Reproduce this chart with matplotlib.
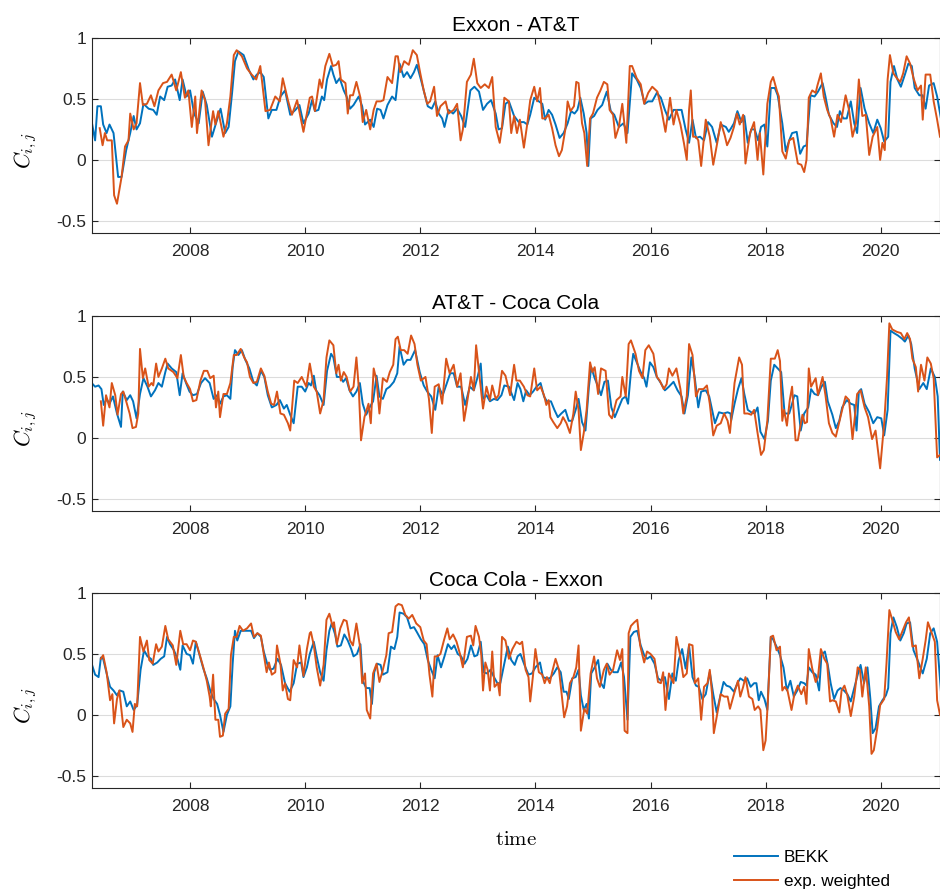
import matplotlib
matplotlib.use("Agg")
import matplotlib.pyplot as plt

# ---- data (time in decimal years) ----

titles = ["Exxon - AT&T", "AT&T - Coca Cola", "Coca Cola - Exxon"]
labels = ["BEKK", "exp. weighted"]

# Exxon - AT&T
xa_bekk_t = [
    2006.30, 2006.35, 2006.39, 2006.45, 2006.49, 2006.55, 2006.60, 2006.67, 2006.75, 2006.81,
    2006.89, 2006.96, 2007.02, 2007.07, 2007.13, 2007.19, 2007.28, 2007.36, 2007.42, 2007.48,
    2007.55, 2007.61, 2007.68, 2007.74, 2007.82, 2007.87, 2007.94, 2008.00, 2008.07, 2008.15,
    2008.22, 2008.29, 2008.38, 2008.45, 2008.53, 2008.61, 2008.67, 2008.73, 2008.78, 2008.84,
    2008.93, 2009.02, 2009.10, 2009.16, 2009.22, 2009.28, 2009.36, 2009.42, 2009.50, 2009.57,
    2009.65, 2009.74, 2009.83, 2009.90, 2009.97, 2010.06,
    2010.12, 2010.17, 2010.23, 2010.29, 2010.33, 2010.38, 2010.45, 2010.49, 2010.54, 2010.60,
    2010.67, 2010.72, 2010.78, 2010.84, 2010.93, 2010.99, 2011.04, 2011.13, 2011.19, 2011.25,
    2011.31, 2011.36, 2011.43, 2011.51, 2011.57, 2011.64, 2011.71, 2011.77, 2011.83, 2011.89,
    2011.94, 2012.01, 2012.07, 2012.13, 2012.20, 2012.26, 2012.32, 2012.38, 2012.42, 2012.49,
    2012.57, 2012.64, 2012.71, 2012.78, 2012.87, 2012.94, 2013.02, 2013.09, 2013.16, 2013.23,
    2013.31, 2013.36, 2013.42, 2013.48, 2013.54, 2013.63, 2013.71,
    2013.74, 2013.80, 2013.86, 2013.91, 2013.98, 2014.06, 2014.12, 2014.17, 2014.23, 2014.29,
    2014.35, 2014.42, 2014.49, 2014.56, 2014.62, 2014.68, 2014.73, 2014.78, 2014.84, 2014.89,
    2014.92, 2014.96, 2015.02, 2015.08, 2015.16, 2015.24, 2015.31, 2015.37, 2015.45, 2015.53,
    2015.60, 2015.68, 2015.76, 2015.83, 2015.90, 2015.96, 2016.03, 2016.11, 2016.18, 2016.25,
    2016.32, 2016.40, 2016.47, 2016.54, 2016.61, 2016.67, 2016.73, 2016.79, 2016.86, 2016.93,
    2017.00, 2017.07, 2017.15, 2017.22, 2017.31, 2017.36,
    2017.40, 2017.45, 2017.51, 2017.58, 2017.63, 2017.69, 2017.75, 2017.81, 2017.87, 2017.92,
    2017.98, 2018.03, 2018.09, 2018.16, 2018.21, 2018.29, 2018.35, 2018.41, 2018.46, 2018.54,
    2018.60, 2018.66, 2018.71, 2018.78, 2018.85, 2018.91, 2018.99, 2019.04, 2019.10, 2019.18,
    2019.24, 2019.29, 2019.35, 2019.41, 2019.48, 2019.54, 2019.59, 2019.65, 2019.72, 2019.80,
    2019.87, 2019.94, 2020.00, 2020.06, 2020.13, 2020.17, 2020.23, 2020.29, 2020.35, 2020.42,
    2020.48, 2020.54, 2020.59, 2020.67, 2020.73, 2020.78, 2020.84, 2020.92, 2020.98, 2021.05,
]
xa_bekk_v = [
    0.29, 0.16, 0.44, 0.44, 0.29, 0.22, 0.29, 0.22, -0.14, -0.14,
    0.08, 0.22, 0.36, 0.25, 0.30, 0.46, 0.42, 0.41, 0.37, 0.52,
    0.49, 0.60, 0.61, 0.66, 0.49, 0.66, 0.52, 0.57, 0.38, 0.30,
    0.56, 0.45, 0.19, 0.30, 0.42, 0.22, 0.27, 0.55, 0.81, 0.89,
    0.86, 0.74, 0.66, 0.70, 0.72, 0.68, 0.34, 0.41, 0.41, 0.52,
    0.57, 0.37, 0.41, 0.45, 0.30, 0.38,
    0.49, 0.40, 0.41, 0.52, 0.49, 0.66, 0.77, 0.70, 0.63, 0.67,
    0.57, 0.52, 0.42, 0.45, 0.52, 0.44, 0.29, 0.33, 0.27, 0.42,
    0.41, 0.34, 0.45, 0.52, 0.49, 0.79, 0.68, 0.72, 0.67, 0.72,
    0.78, 0.66, 0.55, 0.44, 0.42, 0.48, 0.38, 0.34, 0.27, 0.41,
    0.38, 0.42, 0.36, 0.27, 0.57, 0.60, 0.56, 0.41, 0.46, 0.49,
    0.38, 0.25, 0.26, 0.46, 0.48, 0.36, 0.31,
    0.31, 0.31, 0.29, 0.37, 0.51, 0.48, 0.46, 0.33, 0.41, 0.37,
    0.29, 0.18, 0.22, 0.30, 0.40, 0.38, 0.41, 0.51, 0.38, 0.22,
    -0.05, 0.34, 0.36, 0.41, 0.45, 0.56, 0.40, 0.37, 0.27, 0.30,
    0.22, 0.71, 0.66, 0.59, 0.46, 0.48, 0.48, 0.55, 0.51, 0.41,
    0.33, 0.41, 0.41, 0.41, 0.25, 0.14, 0.33, 0.18, 0.19, 0.16,
    0.31, 0.27, 0.14, 0.29, 0.27, 0.23,
    0.26, 0.30, 0.40, 0.31, 0.36, 0.14, 0.25, 0.25, 0.16, 0.27,
    0.29, 0.11, 0.59, 0.59, 0.53, 0.30, 0.07, 0.16, 0.22, 0.23,
    0.05, 0.11, 0.12, 0.53, 0.52, 0.56, 0.63, 0.52, 0.37, 0.30,
    0.27, 0.40, 0.34, 0.34, 0.48, 0.30, 0.22, 0.59, 0.42, 0.30,
    0.22, 0.33, 0.26, 0.15, 0.19, 0.64, 0.77, 0.66, 0.60, 0.70,
    0.79, 0.77, 0.59, 0.53, 0.53, 0.42, 0.61, 0.63, 0.52, 0.33,
]
xa_ew_t = [
    2006.43, 2006.48, 2006.52, 2006.56, 2006.64, 2006.68, 2006.73, 2006.81, 2006.87, 2006.93,
    2006.96, 2007.02, 2007.07, 2007.13, 2007.18, 2007.25, 2007.32, 2007.38, 2007.45, 2007.53,
    2007.60, 2007.68, 2007.76, 2007.84, 2007.91, 2007.97, 2008.03, 2008.09, 2008.12, 2008.20,
    2008.26, 2008.32, 2008.40, 2008.44, 2008.49, 2008.58, 2008.64, 2008.70, 2008.76, 2008.81,
    2008.90, 2008.99, 2009.07, 2009.15, 2009.22, 2009.31, 2009.39, 2009.48, 2009.56, 2009.61,
    2009.70, 2009.77, 2009.86, 2009.97, 2010.08,
    2010.12, 2010.17, 2010.25, 2010.29, 2010.35, 2010.42, 2010.48, 2010.54, 2010.58, 2010.62,
    2010.70, 2010.74, 2010.78, 2010.83, 2010.89, 2010.96, 2011.00, 2011.06, 2011.13, 2011.19,
    2011.24, 2011.31, 2011.36, 2011.43, 2011.51, 2011.57, 2011.61, 2011.65, 2011.72, 2011.80,
    2011.87, 2011.94, 2012.00, 2012.06, 2012.12, 2012.17, 2012.24, 2012.29, 2012.35, 2012.44,
    2012.49, 2012.58, 2012.64, 2012.70, 2012.74, 2012.81, 2012.88, 2012.93, 2012.99, 2013.05,
    2013.12, 2013.19, 2013.25, 2013.31, 2013.38, 2013.42, 2013.46, 2013.54, 2013.58, 2013.63,
    2013.68, 2013.73,
    2013.80, 2013.86, 2013.91, 2013.98, 2014.03, 2014.08, 2014.12, 2014.17, 2014.23, 2014.29,
    2014.35, 2014.41, 2014.46, 2014.52, 2014.56, 2014.61, 2014.67, 2014.71, 2014.75, 2014.81,
    2014.85, 2014.90, 2014.95, 2015.00, 2015.07, 2015.13, 2015.19, 2015.25, 2015.29, 2015.35,
    2015.39, 2015.45, 2015.51, 2015.58, 2015.64, 2015.68, 2015.76, 2015.83, 2015.89, 2015.96,
    2016.03, 2016.12, 2016.19, 2016.26, 2016.34, 2016.40, 2016.45, 2016.52, 2016.58, 2016.63,
    2016.67, 2016.70, 2016.74, 2016.79, 2016.83, 2016.88, 2016.96, 2017.03, 2017.09, 2017.16,
    2017.22, 2017.29, 2017.33, 2017.39,
    2017.45, 2017.50, 2017.55, 2017.61, 2017.65, 2017.73, 2017.80, 2017.86, 2017.90, 2017.96,
    2018.03, 2018.09, 2018.13, 2018.20, 2018.23, 2018.29, 2018.35, 2018.41, 2018.48, 2018.56,
    2018.62, 2018.67, 2018.71, 2018.75, 2018.81, 2018.87, 2018.90, 2018.96, 2019.01, 2019.07,
    2019.13, 2019.19, 2019.25, 2019.31, 2019.39, 2019.45, 2019.51, 2019.57, 2019.62, 2019.68,
    2019.74, 2019.80, 2019.86, 2019.94, 2019.99, 2020.03, 2020.07, 2020.12, 2020.16, 2020.22,
    2020.28, 2020.34, 2020.39, 2020.45, 2020.51, 2020.57, 2020.64, 2020.70, 2020.73, 2020.78,
    2020.86, 2020.92, 2020.98, 2021.03,
]
xa_ew_v = [
    0.26, 0.12, 0.22, 0.16, 0.16, -0.29, -0.36, -0.14, 0.11, 0.16,
    0.38, 0.25, 0.30, 0.63, 0.45, 0.46, 0.53, 0.44, 0.57, 0.63,
    0.64, 0.70, 0.57, 0.72, 0.51, 0.57, 0.27, 0.52, 0.22, 0.57,
    0.49, 0.12, 0.40, 0.29, 0.40, 0.19, 0.30, 0.52, 0.86, 0.90,
    0.85, 0.75, 0.70, 0.66, 0.77, 0.40, 0.41, 0.52, 0.48, 0.67,
    0.49, 0.37, 0.49, 0.23, 0.51,
    0.52, 0.40, 0.66, 0.59, 0.77, 0.87, 0.77, 0.78, 0.81, 0.66,
    0.63, 0.38, 0.53, 0.53, 0.64, 0.51, 0.31, 0.41, 0.25, 0.41,
    0.48, 0.48, 0.49, 0.68, 0.63, 0.85, 0.85, 0.72, 0.81, 0.78,
    0.90, 0.86, 0.71, 0.57, 0.46, 0.48, 0.60, 0.36, 0.44, 0.48,
    0.38, 0.41, 0.46, 0.16, 0.25, 0.64, 0.70, 0.83, 0.63, 0.59,
    0.62, 0.59, 0.68, 0.27, 0.14, 0.27, 0.51, 0.48, 0.22, 0.36,
    0.22, 0.33,
    0.10, 0.30, 0.49, 0.60, 0.48, 0.59, 0.34, 0.34, 0.37, 0.26,
    0.12, 0.03, 0.08, 0.25, 0.48, 0.40, 0.44, 0.64, 0.63, 0.30,
    0.22, -0.05, 0.34, 0.38, 0.51, 0.57, 0.64, 0.62, 0.41, 0.37,
    0.18, 0.27, 0.46, 0.14, 0.77, 0.77, 0.67, 0.62, 0.46, 0.55,
    0.60, 0.56, 0.41, 0.23, 0.51, 0.29, 0.41, 0.29, 0.14, 0.00,
    0.41, 0.57, 0.19, 0.19, 0.16, -0.05, 0.33, 0.19, -0.04, 0.14,
    0.31, 0.20, 0.12, 0.18,
    0.27, 0.38, 0.29, 0.37, -0.03, 0.22, 0.31, 0.00, 0.22, -0.12,
    0.46, 0.64, 0.68, 0.56, 0.52, 0.07, 0.01, 0.16, 0.18, -0.03,
    -0.04, -0.10, 0.00, 0.51, 0.57, 0.55, 0.61, 0.71, 0.52, 0.41,
    0.34, 0.19, 0.37, 0.31, 0.53, 0.41, 0.19, 0.30, 0.66, 0.36,
    0.37, 0.04, 0.19, 0.27, 0.00, 0.14, 0.08, 0.66, 0.86, 0.71,
    0.67, 0.64, 0.71, 0.85, 0.79, 0.67, 0.57, 0.61, 0.33, 0.70,
    0.70, 0.48, 0.33, 0.19,
]

# AT&T - Coca Cola
ak_bekk_t = [
    2006.29, 2006.35, 2006.41, 2006.46, 2006.50, 2006.55, 2006.60, 2006.66, 2006.73, 2006.80,
    2006.83, 2006.90, 2006.96, 2007.01, 2007.07, 2007.13, 2007.19, 2007.26, 2007.32, 2007.39,
    2007.45, 2007.51, 2007.57, 2007.61, 2007.68, 2007.76, 2007.82, 2007.87, 2007.93, 2007.99,
    2008.05, 2008.12, 2008.19, 2008.26, 2008.34, 2008.41, 2008.47, 2008.52, 2008.58, 2008.64,
    2008.70, 2008.74, 2008.78, 2008.84, 2008.90, 2008.96, 2009.03, 2009.10, 2009.16, 2009.23,
    2009.29, 2009.35, 2009.42, 2009.50, 2009.56, 2009.63, 2009.68, 2009.74, 2009.80, 2009.87,
    2009.94, 2010.00, 2010.06,
    2010.10, 2010.15, 2010.19, 2010.25, 2010.32, 2010.38, 2010.45, 2010.49, 2010.55, 2010.61,
    2010.66, 2010.71, 2010.77, 2010.83, 2010.89, 2010.95, 2011.00, 2011.06, 2011.12, 2011.18,
    2011.24, 2011.29, 2011.35, 2011.41, 2011.47, 2011.54, 2011.60, 2011.64, 2011.71, 2011.77,
    2011.83, 2011.91, 2011.99, 2012.06, 2012.12, 2012.19, 2012.26, 2012.32, 2012.39, 2012.47,
    2012.52, 2012.58, 2012.64, 2012.71, 2012.78, 2012.86, 2012.93, 2012.99, 2013.05, 2013.09,
    2013.15, 2013.21, 2013.28, 2013.34, 2013.41, 2013.46, 2013.54, 2013.63, 2013.69,
    2013.74, 2013.79, 2013.84, 2013.90, 2013.96, 2014.02, 2014.09, 2014.15, 2014.20, 2014.27,
    2014.33, 2014.39, 2014.45, 2014.52, 2014.58, 2014.64, 2014.70, 2014.75, 2014.81, 2014.87,
    2014.93, 2014.97, 2015.03, 2015.09, 2015.14, 2015.20, 2015.26, 2015.32, 2015.38, 2015.45,
    2015.51, 2015.57, 2015.61, 2015.66, 2015.70, 2015.76, 2015.83, 2015.89, 2015.93, 2015.99,
    2016.05, 2016.11, 2016.18, 2016.25, 2016.32, 2016.40, 2016.47, 2016.54, 2016.59, 2016.65,
    2016.71, 2016.77, 2016.83, 2016.88, 2016.96, 2017.02, 2017.07, 2017.12, 2017.19, 2017.27,
    2017.34, 2017.39,
    2017.40, 2017.46, 2017.52, 2017.58, 2017.63, 2017.69, 2017.75, 2017.81, 2017.86, 2017.91,
    2017.98, 2018.04, 2018.09, 2018.15, 2018.21, 2018.27, 2018.33, 2018.41, 2018.46, 2018.50,
    2018.55, 2018.61, 2018.67, 2018.74, 2018.79, 2018.85, 2018.91, 2018.97, 2019.03, 2019.08,
    2019.16, 2019.22, 2019.28, 2019.33, 2019.41, 2019.48, 2019.54, 2019.58, 2019.62, 2019.66,
    2019.72, 2019.80, 2019.87, 2019.94, 2020.01, 2020.06, 2020.12, 2020.17, 2020.23, 2020.30,
    2020.38, 2020.42, 2020.48, 2020.53, 2020.59, 2020.67, 2020.74, 2020.80, 2020.87, 2020.94,
    2020.99, 2021.03,
]
ak_bekk_v = [
    0.45, 0.42, 0.43, 0.40, 0.27, 0.32, 0.28, 0.34, 0.20, 0.09,
    0.38, 0.31, 0.35, 0.30, 0.16, 0.36, 0.49, 0.42, 0.34, 0.39,
    0.45, 0.42, 0.54, 0.61, 0.57, 0.54, 0.35, 0.53, 0.45, 0.38,
    0.35, 0.36, 0.45, 0.49, 0.45, 0.32, 0.35, 0.28, 0.34, 0.35,
    0.32, 0.58, 0.72, 0.68, 0.72, 0.64, 0.57, 0.46, 0.43, 0.55,
    0.50, 0.35, 0.25, 0.27, 0.31, 0.24, 0.27, 0.19, 0.12, 0.42,
    0.42, 0.38, 0.45,
    0.43, 0.51, 0.39, 0.35, 0.27, 0.55, 0.69, 0.66, 0.50, 0.50,
    0.46, 0.49, 0.39, 0.34, 0.38, 0.45, 0.28, 0.19, 0.25, 0.30,
    0.51, 0.34, 0.32, 0.40, 0.42, 0.46, 0.53, 0.75, 0.60, 0.64,
    0.64, 0.72, 0.54, 0.43, 0.38, 0.34, 0.23, 0.42, 0.35, 0.46,
    0.53, 0.53, 0.42, 0.42, 0.27, 0.42, 0.39, 0.49, 0.61, 0.32,
    0.35, 0.30, 0.32, 0.31, 0.35, 0.43, 0.42, 0.31, 0.45,
    0.40, 0.30, 0.39, 0.35, 0.38, 0.42, 0.45, 0.34, 0.30, 0.30,
    0.23, 0.17, 0.20, 0.23, 0.14, 0.14, 0.23, 0.32, 0.13, 0.06,
    0.42, 0.58, 0.49, 0.42, 0.35, 0.46, 0.47, 0.25, 0.17, 0.25,
    0.32, 0.34, 0.28, 0.54, 0.69, 0.62, 0.54, 0.49, 0.42, 0.62,
    0.58, 0.50, 0.45, 0.39, 0.42, 0.46, 0.39, 0.34, 0.20, 0.35,
    0.66, 0.49, 0.25, 0.38, 0.39, 0.34, 0.23, 0.12, 0.21, 0.20,
    0.21, 0.20,
    0.14, 0.28, 0.40, 0.49, 0.36, 0.23, 0.21, 0.20, 0.25, 0.05,
    -0.01, 0.14, 0.47, 0.60, 0.57, 0.54, 0.20, 0.20, 0.28, 0.35,
    0.34, 0.06, 0.20, 0.25, 0.40, 0.36, 0.35, 0.42, 0.46, 0.30,
    0.19, 0.08, 0.14, 0.25, 0.31, 0.28, 0.27, 0.06, 0.38, 0.40,
    0.28, 0.21, 0.12, 0.17, 0.16, 0.02, 0.23, 0.88, 0.86, 0.84,
    0.81, 0.79, 0.84, 0.77, 0.57, 0.40, 0.45, 0.40, 0.57, 0.50,
    0.34, -0.18,
]
ak_ew_t = [
    2006.45, 2006.49, 2006.54, 2006.60, 2006.64, 2006.70, 2006.74, 2006.80, 2006.84, 2006.89,
    2006.95, 2007.00, 2007.06, 2007.10, 2007.13, 2007.18, 2007.22, 2007.28, 2007.33, 2007.36,
    2007.41, 2007.45, 2007.51, 2007.57, 2007.62, 2007.71, 2007.78, 2007.84, 2007.89, 2007.94,
    2008.00, 2008.05, 2008.11, 2008.18, 2008.24, 2008.30, 2008.35, 2008.41, 2008.45, 2008.49,
    2008.52, 2008.58, 2008.64, 2008.70, 2008.76, 2008.81, 2008.88, 2008.94, 2008.99, 2009.04,
    2009.10, 2009.16, 2009.23, 2009.29, 2009.35, 2009.41, 2009.46, 2009.51, 2009.57, 2009.63,
    2009.70, 2009.74, 2009.81, 2009.87, 2009.94, 2010.02, 2010.08,
    2010.15, 2010.20, 2010.26, 2010.32, 2010.37, 2010.42, 2010.49, 2010.54, 2010.58, 2010.62,
    2010.67, 2010.72, 2010.78, 2010.84, 2010.89, 2010.93, 2010.97, 2011.03, 2011.10, 2011.14,
    2011.19, 2011.24, 2011.29, 2011.35, 2011.42, 2011.47, 2011.53, 2011.57, 2011.61, 2011.66,
    2011.72, 2011.78, 2011.84, 2011.90, 2011.95, 2012.01, 2012.09, 2012.15, 2012.20, 2012.25,
    2012.32, 2012.38, 2012.45, 2012.51, 2012.58, 2012.64, 2012.70, 2012.76, 2012.81, 2012.88,
    2012.93, 2012.97, 2013.03, 2013.09, 2013.15, 2013.21, 2013.25, 2013.31, 2013.36, 2013.42,
    2013.48, 2013.56, 2013.63, 2013.67, 2013.73,
    2013.80, 2013.86, 2013.91, 2013.98, 2014.03, 2014.09, 2014.15, 2014.19, 2014.23, 2014.26,
    2014.31, 2014.38, 2014.44, 2014.48, 2014.54, 2014.60, 2014.66, 2014.70, 2014.75, 2014.79,
    2014.84, 2014.89, 2014.95, 2014.99, 2015.03, 2015.09, 2015.14, 2015.22, 2015.28, 2015.33,
    2015.41, 2015.48, 2015.51, 2015.57, 2015.62, 2015.66, 2015.74, 2015.80, 2015.86, 2015.91,
    2015.97, 2016.05, 2016.11, 2016.16, 2016.23, 2016.28, 2016.32, 2016.38, 2016.45, 2016.52,
    2016.57, 2016.63, 2016.67, 2016.73, 2016.79, 2016.84, 2016.92, 2016.98, 2017.03, 2017.09,
    2017.15, 2017.22, 2017.28, 2017.34, 2017.38,
    2017.42, 2017.46, 2017.54, 2017.59, 2017.63, 2017.69, 2017.75, 2017.80, 2017.86, 2017.92,
    2017.97, 2018.03, 2018.09, 2018.16, 2018.21, 2018.25, 2018.29, 2018.32, 2018.37, 2018.42,
    2018.46, 2018.52, 2018.56, 2018.64, 2018.68, 2018.72, 2018.75, 2018.79, 2018.87, 2018.91,
    2018.99, 2019.04, 2019.10, 2019.16, 2019.22, 2019.28, 2019.33, 2019.39, 2019.45, 2019.51,
    2019.55, 2019.59, 2019.65, 2019.72, 2019.78, 2019.85, 2019.91, 2019.99, 2020.06, 2020.11,
    2020.15, 2020.20, 2020.28, 2020.35, 2020.41, 2020.46, 2020.51, 2020.55, 2020.61, 2020.65,
    2020.70, 2020.76, 2020.81, 2020.87, 2020.92, 2020.98, 2021.03,
]
ak_ew_v = [
    0.30, 0.10, 0.35, 0.25, 0.45, 0.35, 0.19, 0.36, 0.38, 0.30,
    0.20, 0.08, 0.09, 0.20, 0.73, 0.49, 0.57, 0.42, 0.45, 0.43,
    0.61, 0.50, 0.57, 0.65, 0.57, 0.54, 0.49, 0.68, 0.50, 0.45,
    0.40, 0.30, 0.31, 0.47, 0.55, 0.55, 0.49, 0.51, 0.25, 0.38,
    0.17, 0.36, 0.36, 0.45, 0.68, 0.68, 0.73, 0.66, 0.62, 0.50,
    0.45, 0.46, 0.57, 0.51, 0.38, 0.28, 0.27, 0.38, 0.20, 0.19,
    0.12, 0.06, 0.47, 0.45, 0.50, 0.42, 0.61,
    0.42, 0.38, 0.20, 0.31, 0.66, 0.80, 0.76, 0.53, 0.60, 0.47,
    0.54, 0.50, 0.38, 0.42, 0.66, 0.42, -0.02, 0.17, 0.28, 0.12,
    0.57, 0.47, 0.20, 0.49, 0.46, 0.54, 0.60, 0.81, 0.83, 0.72,
    0.72, 0.69, 0.84, 0.77, 0.60, 0.47, 0.50, 0.32, 0.04, 0.42,
    0.44, 0.28, 0.65, 0.53, 0.60, 0.42, 0.53, 0.14, 0.28, 0.50,
    0.39, 0.76, 0.50, 0.24, 0.42, 0.31, 0.43, 0.32, 0.35, 0.55,
    0.51, 0.35, 0.60, 0.47, 0.47,
    0.42, 0.35, 0.34, 0.57, 0.39, 0.42, 0.35, 0.27, 0.31, 0.17,
    0.13, 0.08, 0.12, 0.17, 0.12, 0.04, 0.20, 0.38, 0.23, -0.10,
    0.04, 0.23, 0.62, 0.54, 0.58, 0.36, 0.57, 0.55, 0.19, 0.16,
    0.31, 0.34, 0.50, 0.34, 0.77, 0.80, 0.69, 0.55, 0.49, 0.72,
    0.76, 0.69, 0.50, 0.47, 0.40, 0.44, 0.57, 0.51, 0.57, 0.40,
    0.20, 0.34, 0.77, 0.68, 0.34, 0.40, 0.40, 0.43, 0.28, 0.02,
    0.10, 0.12, 0.20, 0.14, 0.04,
    0.25, 0.45, 0.66, 0.60, 0.20, 0.20, 0.19, 0.23, 0.04, -0.14,
    -0.10, 0.14, 0.65, 0.65, 0.72, 0.63, 0.14, 0.23, 0.10, 0.31,
    0.42, -0.02, -0.02, 0.19, 0.12, 0.13, 0.57, 0.42, 0.49, 0.35,
    0.50, 0.35, 0.12, 0.04, 0.01, 0.13, 0.23, 0.34, 0.31, -0.01,
    0.17, 0.36, 0.39, 0.25, 0.17, -0.01, 0.06, -0.25, 0.12, 0.50,
    0.94, 0.89, 0.87, 0.86, 0.81, 0.86, 0.81, 0.65, 0.58, 0.38,
    0.60, 0.47, 0.66, 0.61, 0.49, -0.16, -0.14,
]

# Coca Cola - Exxon
kx_bekk_t = [
    2006.29, 2006.35, 2006.41, 2006.45, 2006.49, 2006.55, 2006.61, 2006.67, 2006.73, 2006.78,
    2006.84, 2006.90, 2006.96, 2007.02, 2007.08, 2007.14, 2007.20, 2007.26, 2007.32, 2007.36,
    2007.43, 2007.49, 2007.55, 2007.60, 2007.65, 2007.72, 2007.78, 2007.83, 2007.87, 2007.94,
    2008.00, 2008.05, 2008.10, 2008.16, 2008.23, 2008.29, 2008.35, 2008.41, 2008.47, 2008.52,
    2008.58, 2008.64, 2008.70, 2008.74, 2008.78, 2008.82, 2008.88, 2008.94, 2009.00, 2009.06,
    2009.11, 2009.17, 2009.23, 2009.28, 2009.34, 2009.39, 2009.45, 2009.52, 2009.58, 2009.65,
    2009.73, 2009.80, 2009.86, 2009.93, 2009.97, 2010.03, 2010.08,
    2010.15, 2010.20, 2010.26, 2010.32, 2010.37, 2010.42, 2010.46, 2010.52, 2010.56, 2010.62,
    2010.68, 2010.74, 2010.80, 2010.84, 2010.90, 2010.96, 2011.00, 2011.06, 2011.12, 2011.16,
    2011.20, 2011.25, 2011.31, 2011.35, 2011.43, 2011.49, 2011.55, 2011.60, 2011.64, 2011.71,
    2011.77, 2011.83, 2011.89, 2011.94, 2012.01, 2012.07, 2012.13, 2012.19, 2012.25, 2012.30,
    2012.36, 2012.42, 2012.48, 2012.54, 2012.59, 2012.65, 2012.71, 2012.77, 2012.82, 2012.88,
    2012.94, 2012.99, 2013.05, 2013.10, 2013.16, 2013.22, 2013.28, 2013.34, 2013.39, 2013.46,
    2013.52, 2013.58, 2013.64, 2013.69, 2013.74,
    2013.81, 2013.88, 2013.94, 2014.00, 2014.08, 2014.13, 2014.19, 2014.25, 2014.32, 2014.38,
    2014.44, 2014.49, 2014.54, 2014.58, 2014.64, 2014.70, 2014.75, 2014.79, 2014.84, 2014.89,
    2014.93, 2014.97, 2015.03, 2015.09, 2015.14, 2015.19, 2015.25, 2015.31, 2015.36, 2015.43,
    2015.49, 2015.54, 2015.60, 2015.65, 2015.71, 2015.77, 2015.83, 2015.89, 2015.94, 2016.00,
    2016.07, 2016.13, 2016.19, 2016.25, 2016.32, 2016.38, 2016.44, 2016.49, 2016.55, 2016.61,
    2016.67, 2016.73, 2016.79, 2016.84, 2016.90, 2016.96, 2017.03, 2017.09, 2017.15, 2017.21,
    2017.27, 2017.32, 2017.38,
    2017.45, 2017.51, 2017.56, 2017.62, 2017.68, 2017.74, 2017.80, 2017.84, 2017.88, 2017.92,
    2017.98, 2018.03, 2018.09, 2018.13, 2018.19, 2018.25, 2018.31, 2018.37, 2018.43, 2018.49,
    2018.55, 2018.61, 2018.67, 2018.71, 2018.75, 2018.81, 2018.87, 2018.93, 2018.97, 2019.03,
    2019.08, 2019.13, 2019.19, 2019.25, 2019.30, 2019.36, 2019.42, 2019.48, 2019.54, 2019.60,
    2019.65, 2019.71, 2019.77, 2019.82, 2019.86, 2019.91, 2019.97, 2020.03, 2020.09, 2020.13,
    2020.17, 2020.22, 2020.28, 2020.34, 2020.40, 2020.45, 2020.51, 2020.57, 2020.64, 2020.73,
    2020.80, 2020.86, 2020.92, 2020.98, 2021.05,
]
kx_bekk_v = [
    0.42, 0.33, 0.31, 0.47, 0.46, 0.34, 0.23, 0.20, 0.16, 0.20,
    0.19, 0.07, 0.11, 0.04, 0.08, 0.37, 0.53, 0.48, 0.46, 0.41,
    0.43, 0.46, 0.48, 0.64, 0.58, 0.53, 0.46, 0.37, 0.57, 0.50,
    0.49, 0.42, 0.60, 0.50, 0.38, 0.30, 0.20, 0.13, 0.09, 0.00,
    -0.14, 0.00, 0.07, 0.42, 0.69, 0.61, 0.69, 0.69, 0.69, 0.69,
    0.63, 0.67, 0.64, 0.52, 0.42, 0.37, 0.38, 0.46, 0.41, 0.26,
    0.19, 0.26, 0.42, 0.43, 0.31, 0.39, 0.50,
    0.60, 0.48, 0.35, 0.28, 0.53, 0.69, 0.75, 0.66, 0.56, 0.57,
    0.66, 0.61, 0.54, 0.48, 0.50, 0.58, 0.28, 0.22, 0.22, 0.09,
    0.35, 0.42, 0.41, 0.33, 0.35, 0.56, 0.54, 0.64, 0.84, 0.83,
    0.80, 0.71, 0.72, 0.68, 0.62, 0.58, 0.45, 0.37, 0.30, 0.49,
    0.39, 0.48, 0.58, 0.54, 0.57, 0.50, 0.48, 0.42, 0.46, 0.57,
    0.48, 0.49, 0.60, 0.35, 0.34, 0.37, 0.31, 0.26, 0.26, 0.42,
    0.56, 0.45, 0.41, 0.48, 0.50,
    0.41, 0.33, 0.34, 0.39, 0.43, 0.31, 0.30, 0.30, 0.34, 0.39,
    0.35, 0.19, 0.19, 0.13, 0.30, 0.31, 0.37, 0.16, 0.04, 0.09,
    -0.03, 0.34, 0.39, 0.45, 0.26, 0.22, 0.42, 0.37, 0.35, 0.35,
    0.43, 0.31, -0.04, 0.64, 0.68, 0.69, 0.57, 0.49, 0.46, 0.48,
    0.42, 0.30, 0.28, 0.31, 0.13, 0.34, 0.28, 0.45, 0.54, 0.38,
    0.57, 0.31, 0.24, 0.23, 0.13, 0.17, 0.35, 0.17, 0.02, 0.15,
    0.27, 0.24, 0.23,
    0.19, 0.26, 0.30, 0.28, 0.30, 0.23, 0.26, 0.26, 0.12, 0.19,
    0.13, 0.04, 0.64, 0.62, 0.56, 0.49, 0.39, 0.20, 0.28, 0.15,
    0.20, 0.27, 0.26, 0.24, 0.39, 0.35, 0.33, 0.20, 0.49, 0.52,
    0.41, 0.26, 0.13, 0.20, 0.22, 0.20, 0.17, 0.11, 0.22, 0.33,
    0.41, 0.26, 0.39, 0.13, -0.15, -0.11, 0.07, 0.12, 0.16, 0.22,
    0.67, 0.80, 0.72, 0.61, 0.67, 0.75, 0.76, 0.53, 0.45, 0.34,
    0.46, 0.67, 0.71, 0.60, 0.17,
]
kx_ew_t = [
    2006.45, 2006.49, 2006.55, 2006.61, 2006.65, 2006.68, 2006.73, 2006.77, 2006.84, 2006.90,
    2006.96, 2007.00, 2007.04, 2007.08, 2007.13, 2007.19, 2007.25, 2007.29, 2007.35, 2007.41,
    2007.45, 2007.51, 2007.57, 2007.62, 2007.70, 2007.76, 2007.83, 2007.88, 2007.94, 2008.00,
    2008.05, 2008.10, 2008.17, 2008.23, 2008.29, 2008.34, 2008.36, 2008.40, 2008.44, 2008.49,
    2008.52, 2008.57, 2008.61, 2008.67, 2008.71, 2008.76, 2008.81, 2008.86, 2008.92, 2008.99,
    2009.06, 2009.11, 2009.17, 2009.23, 2009.28, 2009.33, 2009.37, 2009.42, 2009.48, 2009.51,
    2009.57, 2009.61, 2009.65, 2009.70, 2009.74, 2009.80, 2009.86, 2009.90, 2009.97, 2010.03,
    2010.08,
    2010.10, 2010.15, 2010.20, 2010.26, 2010.32, 2010.37, 2010.42, 2010.48, 2010.50, 2010.55,
    2010.61, 2010.67, 2010.72, 2010.78, 2010.83, 2010.89, 2010.95, 2010.99, 2011.04, 2011.07,
    2011.13, 2011.18, 2011.24, 2011.29, 2011.35, 2011.41, 2011.45, 2011.51, 2011.57, 2011.62,
    2011.68, 2011.74, 2011.80, 2011.86, 2011.93, 2012.00, 2012.06, 2012.11, 2012.16, 2012.21,
    2012.25, 2012.30, 2012.35, 2012.41, 2012.47, 2012.51, 2012.57, 2012.63, 2012.69, 2012.74,
    2012.81, 2012.88, 2012.92, 2012.96, 2013.02, 2013.06, 2013.09, 2013.13, 2013.17, 2013.21,
    2013.25, 2013.29, 2013.35, 2013.38, 2013.42, 2013.48, 2013.54, 2013.60, 2013.67, 2013.73,
    2013.77, 2013.83, 2013.88, 2013.91, 2013.96, 2014.00, 2014.06, 2014.12, 2014.16, 2014.20,
    2014.25, 2014.29, 2014.35, 2014.41, 2014.46, 2014.50, 2014.55, 2014.60, 2014.66, 2014.71,
    2014.75, 2014.79, 2014.85, 2014.90, 2014.96, 2015.02, 2015.07, 2015.12, 2015.19, 2015.24,
    2015.29, 2015.35, 2015.42, 2015.47, 2015.51, 2015.55, 2015.60, 2015.62, 2015.66, 2015.72,
    2015.77, 2015.82, 2015.89, 2015.94, 2016.00, 2016.07, 2016.13, 2016.18, 2016.22, 2016.26,
    2016.32, 2016.40, 2016.45, 2016.51, 2016.57, 2016.63, 2016.67, 2016.73, 2016.77, 2016.83,
    2016.88, 2016.93, 2016.99, 2017.03, 2017.07, 2017.10, 2017.16, 2017.22, 2017.28, 2017.34,
    2017.38,
    2017.45, 2017.52, 2017.56, 2017.61, 2017.65, 2017.71, 2017.77, 2017.81, 2017.87, 2017.91,
    2017.96, 2018.00, 2018.04, 2018.09, 2018.13, 2018.19, 2018.25, 2018.29, 2018.33, 2018.38,
    2018.45, 2018.50, 2018.56, 2018.62, 2018.67, 2018.71, 2018.75, 2018.81, 2018.87, 2018.91,
    2018.96, 2019.02, 2019.07, 2019.12, 2019.16, 2019.22, 2019.28, 2019.32, 2019.37, 2019.42,
    2019.48, 2019.54, 2019.60, 2019.64, 2019.68, 2019.74, 2019.80, 2019.84, 2019.88, 2019.94,
    2019.99, 2020.06, 2020.10, 2020.15, 2020.20, 2020.26, 2020.32, 2020.38, 2020.44, 2020.49,
    2020.55, 2020.61, 2020.67, 2020.73, 2020.78, 2020.82, 2020.88, 2020.94, 2020.98, 2021.03,
]
kx_ew_v = [
    0.46, 0.49, 0.35, 0.12, 0.17, -0.07, 0.13, 0.20, -0.10, -0.04,
    -0.07, -0.14, 0.09, 0.07, 0.64, 0.52, 0.61, 0.45, 0.42, 0.58,
    0.52, 0.56, 0.73, 0.62, 0.57, 0.41, 0.69, 0.58, 0.58, 0.53,
    0.61, 0.60, 0.49, 0.39, 0.28, 0.15, 0.07, 0.33, -0.04, -0.04,
    -0.18, -0.17, 0.01, 0.05, 0.49, 0.64, 0.64, 0.73, 0.69, 0.71,
    0.75, 0.64, 0.67, 0.65, 0.50, 0.35, 0.43, 0.33, 0.35, 0.57,
    0.42, 0.20, 0.26, 0.13, 0.12, 0.45, 0.39, 0.57, 0.32, 0.54,
    0.67,
    0.68, 0.57, 0.39, 0.24, 0.41, 0.78, 0.83, 0.72, 0.76, 0.58,
    0.71, 0.78, 0.77, 0.61, 0.57, 0.75, 0.57, 0.26, 0.34, 0.04,
    -0.03, 0.34, 0.42, 0.27, 0.37, 0.49, 0.67, 0.68, 0.89, 0.91,
    0.90, 0.82, 0.79, 0.82, 0.75, 0.72, 0.61, 0.58, 0.33, 0.15,
    0.48, 0.48, 0.50, 0.61, 0.71, 0.62, 0.66, 0.60, 0.50, 0.39,
    0.64, 0.65, 0.57, 0.73, 0.64, 0.49, 0.20, 0.43, 0.37, 0.20,
    0.52, 0.23, 0.26, 0.16, 0.64, 0.61, 0.46, 0.54, 0.60, 0.58,
    0.60, 0.37, 0.31, 0.11, 0.33, 0.54, 0.35, 0.33, 0.26, 0.31,
    0.26, 0.35, 0.46, 0.37, 0.15, -0.02, 0.07, 0.26, 0.31, 0.39,
    0.57, -0.13, 0.05, 0.01, 0.34, 0.48, 0.30, 0.23, 0.37, 0.42,
    0.33, 0.37, 0.53, 0.45, 0.54, -0.13, -0.15, 0.67, 0.73, 0.76,
    0.78, 0.57, 0.43, 0.52, 0.50, 0.46, 0.27, 0.26, 0.35, 0.04,
    0.34, 0.26, 0.64, 0.50, 0.31, 0.34, 0.58, 0.57, 0.26, 0.30,
    -0.04, 0.23, 0.26, 0.37, 0.17, -0.15, 0.01, 0.17, 0.15, 0.15,
    0.05,
    0.17, 0.28, 0.15, 0.23, 0.31, 0.15, 0.13, 0.04, 0.07, 0.04,
    -0.29, -0.21, 0.12, 0.64, 0.65, 0.53, 0.56, 0.20, 0.23, 0.20,
    0.04, 0.17, 0.24, 0.17, 0.23, 0.09, 0.54, 0.38, 0.27, 0.31,
    0.54, 0.46, 0.42, 0.11, 0.12, 0.11, 0.02, 0.20, 0.24, 0.16,
    -0.01, 0.15, 0.39, 0.37, 0.15, 0.39, 0.07, -0.32, -0.29, -0.11,
    0.08, 0.13, 0.42, 0.86, 0.78, 0.68, 0.62, 0.69, 0.76, 0.80,
    0.56, 0.57, 0.30, 0.46, 0.61, 0.76, 0.68, 0.60, 0.12, 0.00,
]

year_ticks = [2008, 2010, 2012, 2014, 2016, 2018, 2020]
corr_ticks = [-0.5, 0, 0.5, 1]
corr_tick_labels = ["-0.5", "0", "0.5", "1"]

panels = [
    (titles[0], xa_bekk_t, xa_bekk_v, xa_ew_t, xa_ew_v),
    (titles[1], ak_bekk_t, ak_bekk_v, ak_ew_t, ak_ew_v),
    (titles[2], kx_bekk_t, kx_bekk_v, kx_ew_t, kx_ew_v),
]

# ---- style (MATLAB look) ----
bekk_color = "#0072BD"
ew_color = "#D95319"
axis_color = "#262626"

plt.rcParams["font.family"] = ["Liberation Sans", "DejaVu Sans"]
plt.rcParams["mathtext.fontset"] = "cm"

W, H = 940, 891
fig = plt.figure(figsize=(W / 100, H / 100), dpi=100)

tops = [38, 316, 593]
ax_h = 195
for k, (title, tb, vb, te, ve) in enumerate(panels):
    ax = fig.add_axes([92 / W, 1 - (tops[k] + ax_h) / H, 848 / W, ax_h / H])
    lb, = ax.plot(tb, vb, color=bekk_color, lw=1.4)
    le, = ax.plot(te, ve, color=ew_color, lw=1.4)

    ax.set_xlim(2006.296, 2021.03)
    ax.set_ylim(-0.6, 1)
    ax.set_xticks(year_ticks)
    ax.set_yticks(corr_ticks)
    ax.set_yticklabels(corr_tick_labels)
    ax.grid(axis="y", color="#dcdcdc", lw=0.8)
    ax.set_axisbelow(True)
    ax.tick_params(direction="in", top=True, right=True, length=4,
                   width=0.8, labelsize=12.5, colors=axis_color)
    ax.tick_params(axis="x", pad=8)
    ax.tick_params(axis="y", pad=4)
    for s in ax.spines.values():
        s.set_color(axis_color)
        s.set_linewidth(0.8)

    ax.set_title(title, fontsize=15, pad=5, color="black")
    ax.set_ylabel(r"$C_{i,j}$", fontsize=16, color="black")
    ax.yaxis.set_label_coords(-0.062, 0.42)

    if k == 2:
        ax.set_xlabel(r"$\mathrm{time}$", fontsize=15, color="black")
        ax.xaxis.set_label_coords(0.5, -0.215)

fig.legend([lb, le], labels, loc="upper left",
           bbox_to_anchor=(734 / W, 1 - 850 / H), frameon=False,
           fontsize=12.3, handlelength=2.6, handletextpad=0.3,
           labelspacing=0.55, borderpad=0, borderaxespad=0)

fig.savefig("out.png", dpi=100)
